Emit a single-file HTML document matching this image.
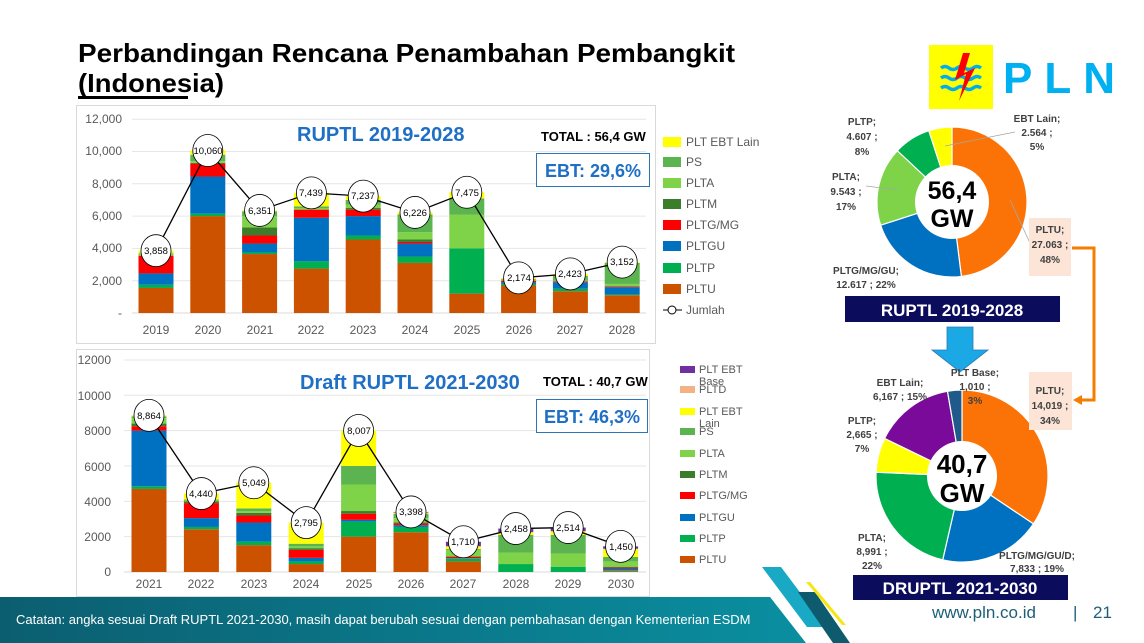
<!DOCTYPE html>
<html><head><meta charset="utf-8"><style>
html,body{margin:0;padding:0;background:#fff;}
svg{display:block;font-family:"Liberation Sans",sans-serif;}
.tk{font-size:12px;fill:#595959;}
.lg{font-size:12px;fill:#595959;}
.lg2{font-size:11px;fill:#595959;}
.cv{font-size:9.5px;fill:#000;text-anchor:middle;}
.dl{font-size:10px;font-weight:bold;fill:#404040;text-anchor:middle;}
</style></head><body>
<svg id="s" width="1144" height="643" viewBox="0 0 1144 643" xmlns="http://www.w3.org/2000/svg">
<rect width="1144" height="643" fill="#fff"/>
<defs><linearGradient id="tg" x1="0" x2="1" y1="0" y2="0"><stop offset="0" stop-color="#0b5e70"/><stop offset="1" stop-color="#0a8fa0"/></linearGradient></defs>
<polygon points="0,597 770,597 806,643 0,643" fill="url(#tg)"/>
<polygon points="762,567 781,567 826,627 807,627" fill="#19a9c4"/>
<polygon points="798,592 815,592 850,643 833,643" fill="#0f5b6e"/>
<polygon points="806,582 810,582 846,625 842,625" fill="#f5e614"/>
<text x="16" y="624" font-size="13" fill="#fff">Catatan: angka sesuai Draft RUPTL 2021-2030, masih dapat berubah sesuai dengan pembahasan dengan Kementerian ESDM</text>
<text x="932" y="618" font-size="17" fill="#1d5f78">www.pln.co.id</text>
<text x="1073" y="618" font-size="17" fill="#1d5f78">|</text>
<text x="1093" y="618" font-size="17" fill="#1d5f78">21</text>

<text x="78" y="62" font-size="26" font-weight="bold" fill="#000" textLength="657" lengthAdjust="spacingAndGlyphs">Perbandingan Rencana Penambahan Pembangkit</text>
<text x="78" y="92" font-size="26" font-weight="bold" fill="#000" textLength="146" lengthAdjust="spacingAndGlyphs">(Indonesia)</text>
<rect x="78" y="96" width="110" height="3" fill="#000"/>

<rect x="929" y="45" width="64" height="64" fill="#ffff00"/>
<g stroke="#00aeef" stroke-width="3.5" fill="none">
<path d="M941,68 q4,-3 8,0 t8,0 t8,0 t8,0 t8,0"/>
<path d="M941,78 q4,-3 8,0 t8,0 t8,0 t8,0 t8,0"/>
<path d="M941,88 q4,-3 8,0 t8,0 t8,0 t8,0 t8,0"/>
</g>
<polygon points="963,53 955,80 966,74 959,101 975,68 964,73 970,53" fill="#ff0000"/>
<text x="1003" y="93" font-size="44" font-weight="bold" fill="#00b0f0" letter-spacing="12">PLN</text>

<rect x="76.5" y="105.5" width="579" height="238" fill="#fff" stroke="#d9d9d9"/>
<g id="topg"></g>
<g class="tk" text-anchor="end">
<text x="122" y="123">12,000</text><text x="122" y="155">10,000</text><text x="122" y="188">8,000</text><text x="122" y="220">6,000</text><text x="122" y="252">4,000</text><text x="122" y="285">2,000</text><text x="122" y="317">-</text>
</g>
<g class="tk" text-anchor="middle">
<text x="156" y="334">2019</text><text x="208" y="334">2020</text><text x="260" y="334">2021</text><text x="311" y="334">2022</text><text x="363" y="334">2023</text><text x="415" y="334">2024</text><text x="467" y="334">2025</text><text x="519" y="334">2026</text><text x="570" y="334">2027</text><text x="622" y="334">2028</text>
</g>
<text x="297" y="141" font-size="20" font-weight="bold" fill="#1f6fc5">RUPTL 2019-2028</text>
<text x="541" y="141" font-size="13" font-weight="bold" fill="#000">TOTAL : 56,4 GW</text>
<rect x="536.5" y="153.5" width="113" height="33" fill="#fff" stroke="#2e75b6"/>
<text x="593" y="177" font-size="18" font-weight="bold" fill="#1f6fc5" text-anchor="middle">EBT: 29,6%</text>
<g class="lg">
<rect x="663" y="137" width="18" height="10" fill="#ffff00"/><text x="686" y="146">PLT EBT Lain</text>
<rect x="663" y="157" width="18" height="10" fill="#5bb450"/><text x="686" y="166">PS</text>
<rect x="663" y="178" width="18" height="10" fill="#7ed348"/><text x="686" y="187">PLTA</text>
<rect x="663" y="199" width="18" height="10" fill="#3b7d2a"/><text x="686" y="208">PLTM</text>
<rect x="663" y="220" width="18" height="10" fill="#ff0000"/><text x="686" y="229">PLTG/MG</text>
<rect x="663" y="241" width="18" height="10" fill="#0070c0"/><text x="686" y="250">PLTGU</text>
<rect x="663" y="263" width="18" height="10" fill="#00b050"/><text x="686" y="272">PLTP</text>
<rect x="663" y="284" width="18" height="10" fill="#cc5200"/><text x="686" y="293">PLTU</text>
<line x1="663" y1="310" x2="682" y2="310" stroke="#000"/><circle cx="672" cy="310" r="4" fill="#fff" stroke="#000"/><text x="686" y="314">Jumlah</text>
</g>
<g id="topl"></g>
<g class="cv">
<text x="156" y="254">3,858</text><text x="208" y="154">10,060</text><text x="260" y="214">6,351</text><text x="311" y="196">7,439</text><text x="363" y="199">7,237</text><text x="415" y="216">6,226</text><text x="467" y="196">7,475</text><text x="519" y="281">2,174</text><text x="570" y="277">2,423</text><text x="622" y="265">3,152</text>
</g>

<rect x="76.5" y="349.5" width="573" height="247" fill="#fff" stroke="#d9d9d9"/>
<g id="botg"></g>
<g class="tk" text-anchor="end" font-size="11">
<text x="111" y="364">12000</text><text x="111" y="400">10000</text><text x="111" y="435">8000</text><text x="111" y="471">6000</text><text x="111" y="506">4000</text><text x="111" y="541">2000</text><text x="111" y="576">0</text>
</g>
<g class="tk" text-anchor="middle">
<text x="149" y="588">2021</text><text x="201" y="588">2022</text><text x="254" y="588">2023</text><text x="306" y="588">2024</text><text x="359" y="588">2025</text><text x="411" y="588">2026</text><text x="463" y="588">2027</text><text x="516" y="588">2028</text><text x="568" y="588">2029</text><text x="621" y="588">2030</text>
</g>
<text x="300" y="389" font-size="20" font-weight="bold" fill="#1f6fc5">Draft RUPTL 2021-2030</text>
<text x="543" y="386" font-size="13" font-weight="bold" fill="#000">TOTAL : 40,7 GW</text>
<rect x="536.5" y="399.5" width="111" height="33" fill="#fff" stroke="#2e75b6"/>
<text x="592" y="423" font-size="18" font-weight="bold" fill="#1f6fc5" text-anchor="middle">EBT: 46,3%</text>
<g class="lg2">
<rect x="680" y="366" width="15" height="7" fill="#7030a0"/><text x="699" y="373">PLT EBT</text><text x="699" y="385">Base</text>
<rect x="680" y="386" width="15" height="7" fill="#f4b183"/><text x="699" y="393">PLTD</text>
<rect x="680" y="408" width="15" height="7" fill="#ffff00"/><text x="699" y="415">PLT EBT</text><text x="699" y="427">Lain</text>
<rect x="680" y="428" width="15" height="7" fill="#5bb450"/><text x="699" y="435">PS</text>
<rect x="680" y="450" width="15" height="7" fill="#7ed348"/><text x="699" y="457">PLTA</text>
<rect x="680" y="471" width="15" height="7" fill="#3b7d2a"/><text x="699" y="478">PLTM</text>
<rect x="680" y="492" width="15" height="7" fill="#ff0000"/><text x="699" y="499">PLTG/MG</text>
<rect x="680" y="514" width="15" height="7" fill="#0070c0"/><text x="699" y="521">PLTGU</text>
<rect x="680" y="535" width="15" height="7" fill="#00b050"/><text x="699" y="542">PLTP</text>
<rect x="680" y="556" width="15" height="7" fill="#cc5200"/><text x="699" y="563">PLTU</text>
</g>
<g id="botl"></g>
<g class="cv">
<text x="149" y="419">8,864</text><text x="201" y="497">4,440</text><text x="254" y="486">5,049</text><text x="306" y="526">2,795</text><text x="359" y="434">8,007</text><text x="411" y="515">3,398</text><text x="463" y="545">1,710</text><text x="516" y="532">2,458</text><text x="568" y="531">2,514</text><text x="621" y="550">1,450</text>
</g>

<g id="d1"></g><g id="d2"></g>
<circle cx="952" cy="202" r="37" fill="#fff"/>
<text x="952" y="199" font-size="25" font-weight="bold" text-anchor="middle">56,4</text>
<text x="952" y="227" font-size="25" font-weight="bold" text-anchor="middle">GW</text>
<circle cx="962" cy="476" r="35" fill="#fff"/>
<text x="962" y="473" font-size="26" font-weight="bold" text-anchor="middle">40,7</text>
<text x="962" y="502" font-size="26" font-weight="bold" text-anchor="middle">GW</text>
<g stroke="#a6a6a6" stroke-width="0.8">
<line x1="945" y1="146" x2="1015" y2="132"/><line x1="866" y1="186" x2="898" y2="190"/><line x1="1010" y1="200" x2="1030" y2="243"/>
</g>
<rect x="1029" y="218" width="42" height="58" fill="#fce4d6"/>
<g class="dl">
<text x="862" y="125">PLTP;</text><text x="862" y="140">4.607 ;</text><text x="862" y="155">8%</text>
<text x="846" y="180">PLTA;</text><text x="846" y="195">9.543 ;</text><text x="846" y="210">17%</text>
<text x="1037" y="122">EBT Lain;</text><text x="1037" y="136">2.564 ;</text><text x="1037" y="150">5%</text>
<text x="866" y="274">PLTG/MG/GU;</text><text x="866" y="288">12.617 ; 22%</text>
<text x="1050" y="233">PLTU;</text><text x="1050" y="248">27.063 ;</text><text x="1050" y="263">48%</text>
</g>
<rect x="845" y="296" width="215" height="26" fill="#0c0c5c"/>
<text x="952" y="316" font-size="17" font-weight="bold" fill="#fff" text-anchor="middle">RUPTL 2019-2028</text>
<polyline points="1072,248 1094,248 1094,400 1080,400" fill="none" stroke="#f57c00" stroke-width="3"/>
<polygon points="1073,400 1082,395 1082,405" fill="#f57c00"/>
<polygon points="947,327 973,327 973,350 988,350 960,372 932,350 947,350" fill="#1aa9e5" stroke="#2e75b6" stroke-width="0.8"/>
<rect x="1029" y="372" width="43" height="58" fill="#fce4d6"/>
<g class="dl">
<text x="900" y="386">EBT Lain;</text><text x="900" y="400">6,167 ; 15%</text>
<text x="975" y="376">PLT Base;</text><text x="975" y="390">1,010 ;</text><text x="975" y="404">3%</text>
<text x="862" y="424">PLTP;</text><text x="862" y="438">2,665 ;</text><text x="862" y="452">7%</text>
<text x="872" y="541">PLTA;</text><text x="872" y="555">8,991 ;</text><text x="872" y="569">22%</text>
<text x="1037" y="559">PLTG/MG/GU/D;</text><text x="1037" y="572">7,833 ; 19%</text>
<text x="1050" y="394">PLTU;</text><text x="1050" y="409">14,019 ;</text><text x="1050" y="424">34%</text>
</g>
<rect x="853" y="575" width="215" height="25" fill="#0c0c5c"/>
<text x="960" y="594" font-size="17" font-weight="bold" fill="#fff" text-anchor="middle">DRUPTL 2021-2030</text>
</svg>
<script>
var NS="http://www.w3.org/2000/svg";
function el(p,t,a){var e=document.createElementNS(NS,t);for(var k in a)e.setAttribute(k,a[k]);document.getElementById(p).appendChild(e);return e;}
var C=["#cc5200","#00b050","#0070c0","#ff0000","#3b7d2a","#7ed348","#5bb450","#ffff00","#f4b183","#7030a0"];
function chart(g,lg,y0,sc,x0,dx,w,data,tot,gx0,gx1){
 for(var i=1;i<=6;i++){var y=y0-i*2000*sc;el(g,"line",{x1:gx0,x2:gx1,y1:y,y2:y,stroke:"#e6e6e6","stroke-width":1});}
 el(g,"line",{x1:gx0,x2:gx1,y1:y0,y2:y0,stroke:"#d9d9d9","stroke-width":1});
 var pts=[];
 data.forEach(function(d,i){var cx=x0+i*dx,prev=0;
  d.forEach(function(v,j){if(v>prev){el(g,"rect",{x:cx-w/2,y:y0-v*sc,width:w,height:(v-prev)*sc,fill:C[j]});}prev=Math.max(prev,v);});
  pts.push(cx+","+(y0-tot[i]*sc));});
 el(lg,"polyline",{points:pts.join(" "),fill:"none",stroke:"#000","stroke-width":1.3});
 pts.forEach(function(p){var a=p.split(",");el(lg,"ellipse",{cx:a[0],cy:a[1],rx:15,ry:16,fill:"#fff",stroke:"#000","stroke-width":0.8});});
}
chart("topg","topl",313,0.01615,156,51.8,35,[
[1550,1750,2450,3550,3550,3650,3700,3858],
[6000,6150,8450,9250,9300,9400,9800,10060],
[3650,3750,4300,4800,5300,6000,6300,6351],
[2750,3200,5900,6400,6400,6500,6600,7439],
[4550,4800,6000,6400,6500,6700,7000,7237],
[3100,3500,4300,4400,4550,5000,6100,6226],
[1200,4000,4000,4000,4000,6100,7100,7475],
[1700,1800,1900,2000,2000,2050,2100,2174],
[1350,1500,1900,1950,1950,2000,2300,2423],
[1100,1150,1600,1650,1650,1800,3100,3152]],
[3858,10060,6351,7439,7237,6226,7475,2174,2423,3152],132,646);
chart("botg","botl",572,0.01767,149,52.4,35,[
[4700,4850,8000,8250,8400,8700,8800,8864],
[2420,2550,3050,3900,4000,4050,4100,4440],
[1520,1720,2800,3200,3350,3450,3600,5049],
[450,600,800,1250,1350,1450,1600,2795],
[2000,2850,2950,3300,3450,4950,6000,8007],
[2250,2550,2650,2750,2800,3050,3300,3350,3370,3398],
[600,750,780,850,880,1250,1300,1450,1460,1710],
[0,450,450,450,450,1100,2100,2250,2260,2458],
[0,300,300,300,300,1050,2100,2300,2310,2514],
[50,100,200,250,300,600,850,1300,1320,1450]],
[8864,4440,5049,2795,8007,3398,1710,2458,2514,1450],124,646);
function donut(g,cx,cy,R,fr,cols){var a=0;
 fr.forEach(function(f,i){var a0=a*2*Math.PI,a1=(a+f)*2*Math.PI;a+=f;
  var x0=cx+R*Math.sin(a0),y0=cy-R*Math.cos(a0),x1=cx+R*Math.sin(a1),y1=cy-R*Math.cos(a1);
  el(g,"path",{d:"M"+cx+","+cy+" L"+x0+","+y0+" A"+R+","+R+" 0 "+(f>0.5?1:0)+" 1 "+x1+","+y1+" Z",fill:cols[i],stroke:"#fff","stroke-width":1.2});});}
donut("d1",952,202,75,[0.48,0.22,0.17,0.08,0.05],["#fb7306","#0070c0","#7ed348","#00b050","#ffff00"]);
donut("d2",962,476,86,[0.344,0.192,0.221,0.065,0.151,0.027],["#fb7306","#0070c0","#00b050","#ffff00","#7a0a9a","#1f5a8a"]);
</script>
</body></html>
